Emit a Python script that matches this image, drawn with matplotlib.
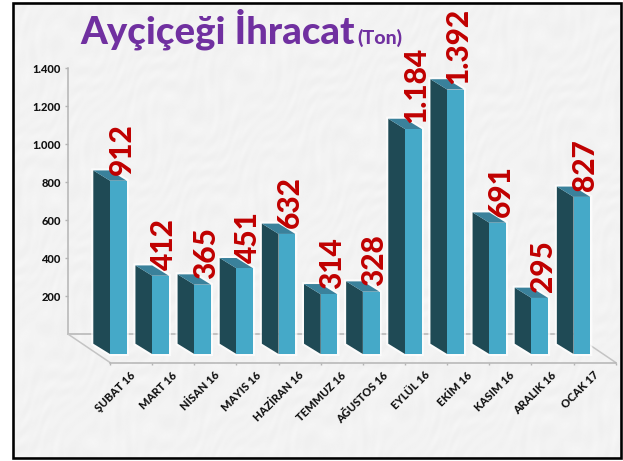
import matplotlib
matplotlib.use("Agg")
import matplotlib.pyplot as plt
import numpy as np
from matplotlib.patches import Polygon, Rectangle

months = ["ŞUBAT 16", "MART 16", "NİSAN 16", "MAYIS 16", "HAZİRAN 16", "TEMMUZ 16",
          "AĞUSTOS 16", "EYLÜL 16", "EKİM 16", "KASIM 16", "ARALIK 16", "OCAK 17"]
values = [912, 412, 365, 451, 632, 314, 328, 1184, 1392, 691, 295, 827]
value_labels = ["912", "412", "365", "451", "632", "314", "328", "1.184", "1.392", "691", "295", "827"]
y_ticks = [200, 400, 600, 800, 1000, 1200, 1400]
y_tick_labels = ["200", "400", "600", "800", "1.000", "1.200", "1.400"]

W, H = 623, 461
PX_PT = 0.72  # one pixel in points at dpi 100
plt.rcParams["font.family"] = ["Lato", "DejaVu Sans"]
plt.rcParams["font.weight"] = "bold"


def px_axes(fig, left, right, top, bottom):
    return fig.add_axes([left / W, 1 - bottom / H, (right - left) / W, (bottom - top) / H])


fig = plt.figure(figsize=(W / 100, H / 100), dpi=100, facecolor="white")

# marble-ish backdrop and black frame
bg = px_axes(fig, 0, W, 0, H)
bg.axis("off")
yy, xx = np.mgrid[0:H, 0:W]
warp = 1.4 * np.sin(xx / 37 + yy / 23) + 1.1 * np.sin(xx / 13 - yy / 29)
marble = (np.sin((xx + 2.0 * yy) / 9 + 2.2 * warp) * np.sin((xx - yy) / 21 + warp)
          + 0.5 * np.sin((2 * xx + yy) / 4 + 3 * warp))
bg.imshow(0.95 + 0.008 * marble, cmap="gray", vmin=0, vmax=1, extent=(13, 621, 458, 3),
          aspect="auto", interpolation="bilinear")
bg.set_xlim(0, W)
bg.set_ylim(H, 0)
bg.add_patch(Rectangle((13, 3), 608, 455, fill=False, ec="black", lw=2.6 * PX_PT))

# back wall holds the value axis
back = px_axes(fig, 68, 573.7, 68, 334)
back.patch.set_alpha(0)
back.set_xlim(0, 12)
back.set_ylim(0, 1400)
back.set_xticks([])
back.set_yticks(y_ticks, y_tick_labels)
back.tick_params(axis="y", length=3 * PX_PT, width=1, color="#b4b4b4", pad=3,
                 labelsize=8, labelcolor="#111111")
plt.setp(back.get_yticklabels(), fontweight=900)
for side in ["top", "right"]:
    back.spines[side].set_visible(False)
for side in ["left", "bottom"]:
    back.spines[side].set_color("#b4b4b4")
    back.spines[side].set_linewidth(1.1)

# front plane holds the bars: 0.19 px per unit, base at y=354
ax = px_axes(fig, 110, 615.7, 88, 354)
ax.patch.set_alpha(0)
ax.set_xlim(0, 12)
ax.set_ylim(0, 1400)
width = 16.7 / 42.14
dx = 16.7 / 42.14
dy = 10.3 / 0.19
ax.yaxis.set_visible(False)
for side in ["top", "left", "right"]:
    ax.spines[side].set_visible(False)
ax.spines["bottom"].set_position(("outward", 8.5 * PX_PT))
ax.spines["bottom"].set_color("#b4b4b4")
ax.spines["bottom"].set_linewidth(1.1)
ax.set_xticks(np.arange(13))
ax.set_xticklabels([])
ax.tick_params(axis="x", which="major", length=2.5 * PX_PT, width=1, color="#b4b4b4")
ax.set_xticks(np.arange(12) + 0.46, months, minor=True)
ax.tick_params(axis="x", which="minor", length=0, pad=5, labelsize=8, labelcolor="#111111")
plt.setp(ax.get_xticklabels(minor=True), rotation=45, ha="right", va="top",
         rotation_mode="anchor", fontweight=900)

# floor edges
floor_front = -8.5 / 0.19
floor_back = 20 / 0.19
ax.plot([-1, 0], [floor_back, floor_front], color="#c4c4c4", lw=1.1, clip_on=False, zorder=1)
ax.plot([11, 12], [floor_back, floor_front], color="#c4c4c4", lw=1.1, clip_on=False, zorder=1)

for i, (v, lab) in enumerate(zip(values, value_labels)):
    side = [(i, 0), (i - dx, dy), (i - dx, v + dy), (i, v)]
    top = [(i, v), (i - dx, v + dy), (i - dx + width, v + dy), (i + width, v)]
    outline = [(i - dx, dy), (i - dx, v + dy), (i - dx + width, v + dy), (i + width, v), (i + width, 0), (i, 0)]
    ax.add_patch(Polygon(outline, fc="white", ec="white", lw=3, alpha=0.75, clip_on=False, zorder=2))
    ax.add_patch(Polygon(side, fc="#1f4a55", ec="none", clip_on=False, zorder=3))
    ax.add_patch(Polygon(top, fc="#3a819b", ec="none", clip_on=False, zorder=3))
    ax.bar(i, v, width=width, align="edge", color="#45a9c8", clip_on=False, zorder=3)
    ax.annotate(lab, xy=(i + width / 2, v), xytext=(2.2, 4), textcoords="offset points",
                rotation=90, ha="center", va="bottom", fontsize=21.5, fontweight=900, color="#c00000",
                annotation_clip=False, zorder=5)

fig.text(80 / W, 1 - 43 / H, "Ayçiçeği İhracat", fontsize=27.5, color="#7030a0", ha="left", va="baseline",
         fontweight=900)
fig.text(357 / W, 1 - 43.5 / H, "(Ton)", fontsize=14, color="#7030a0", ha="left", va="baseline", fontweight=900)

fig.savefig("out.png", dpi=100)
